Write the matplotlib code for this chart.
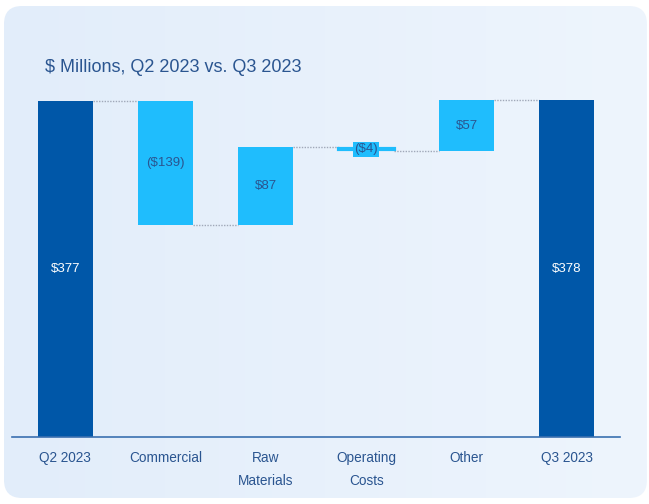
import numpy as np
import matplotlib
matplotlib.use('Agg')
import matplotlib.pyplot as plt
from matplotlib.patches import FancyBboxPatch
from matplotlib.colors import LinearSegmentedColormap

# data
categories = ['Q2 2023', 'Commercial', 'Raw\nMaterials', 'Operating\nCosts', 'Other', 'Q3 2023']
changes = [377, -139, 87, -4, 57, 378]
labels = ['$377', '($139)', '$87', '($4)', '$57', '$378']
is_total = [True, False, False, False, False, True]

dark = '#0057a8'
light = '#1fbdfd'
text_col = '#2a5590'

plt.rcParams['font.family'] = ['Liberation Sans', 'DejaVu Sans']

fig = plt.figure(figsize=(6.49, 5.04), dpi=100)
fig.patch.set_facecolor('white')

# gradient background panel with rounded corners
bg = fig.add_axes([0, 0, 1, 1])
bg.set_xlim(0, 649)
bg.set_ylim(504, 0)
bg.axis('off')
cmap = LinearSegmentedColormap.from_list('bg', ['#e2edfa', '#eef5fd'])
grad = np.linspace(0, 1, 256).reshape(1, -1)
img = bg.imshow(grad, cmap=cmap, extent=[4, 647, 498, 6], aspect='auto')
box = FancyBboxPatch((4, 6), 643, 492, boxstyle='round,pad=0,rounding_size=18',
                     transform=bg.transData, facecolor='none', edgecolor='none')
bg.add_patch(box)
img.set_clip_path(box)

ax = fig.add_axes([12 / 649, 67 / 504, 608 / 649, 356.4 / 504])
ax.patch.set_alpha(0)

x = np.arange(len(categories))
width = 0.55
running = 0
tops = []
for i in range(len(changes)):
    if is_total[i]:
        bottom = 0
        h = changes[i]
        running = changes[i]
        col = dark
    else:
        start = running
        running = running + changes[i]
        bottom = min(start, running)
        h = abs(changes[i])
        col = light
    ax.bar(x[i], h, width, bottom=bottom, color=col, zorder=2)
    tops.append(running)
    mid = bottom + h / 2
    if is_total[i]:
        ax.text(x[i], mid, labels[i], ha='center', va='center', color='white', fontsize=9.5, zorder=3)
    elif h < 10:
        ax.plot([x[i] - width / 2, x[i] + width / 2], [mid, mid], color=light, lw=3, zorder=2)
        ax.text(x[i], mid, labels[i], ha='center', va='center', color=text_col, fontsize=9.5, zorder=3,
                bbox=dict(boxstyle='square,pad=0.1', fc=light, ec='none'))
    else:
        ax.text(x[i], mid, labels[i], ha='center', va='center', color=text_col, fontsize=9.5, zorder=3)

# dotted connectors
for i in range(len(changes) - 1):
    ax.plot([x[i] + width / 2, x[i + 1] - width / 2], [tops[i], tops[i]],
            color='#a0a8b8', lw=1, ls=(0, (1, 1)), zorder=1)

ax.set_xlim(-0.53, 5.53)
ax.set_ylim(0, 400)
for s in ['top', 'right', 'left']:
    ax.spines[s].set_visible(False)
ax.spines['bottom'].set_color('#3a70b0')
ax.spines['bottom'].set_linewidth(1.2)
ax.set_yticks([])
ax.set_xticks(x)
ax.set_xticklabels(categories, color=text_col, fontsize=9.8, linespacing=1.8)
ax.tick_params(axis='x', length=0, pad=10)

fig.text(45 / 649, 1 - 68 / 504, '$ Millions, Q2 2023 vs. Q3 2023', color=text_col,
         fontsize=13, va='center', ha='left')

fig.savefig('out.png', dpi=100)
